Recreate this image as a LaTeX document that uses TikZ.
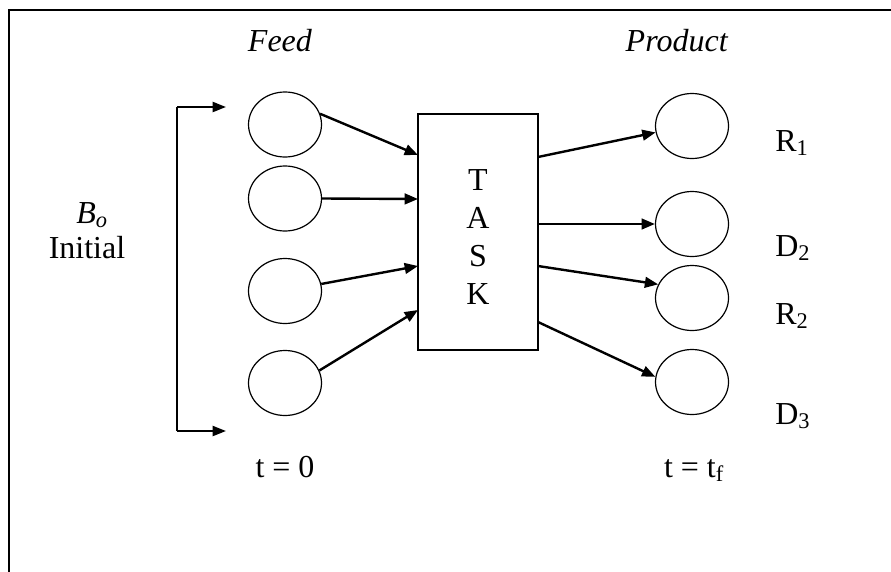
\documentclass[tikz,border=0pt]{standalone}
\usepackage{fontspec}
\setmainfont{Liberation Serif}
\usetikzlibrary{shapes.geometric,arrows.meta}

\begin{document}
\begin{tikzpicture}[x=0.75pt,y=-0.75pt,
    font=\fontsize{24}{28.5}\selectfont,
    flow/.style={line width=1.8pt,-{Triangle[length=10pt,width=8pt]}}]

  \useasboundingbox (0,0) rectangle (891,571);
  \draw[line width=1.5pt] (9,10) rectangle (920,600);

  % feed and product vessels
  \begin{scope}[every node/.style={ellipse,draw,line width=0.9pt,
      minimum width=54.75pt,minimum height=48.75pt,inner sep=0pt}]
    \node (f1) at (285,124.5) {};
    \node (f2) at (285,198.5) {};
    \node (f3) at (285,291)   {};
    \node (f4) at (285,383)   {};
    \node (p1) at (692,126)   {};
    \node (p2) at (692,224)   {};
    \node (p3) at (692,298)   {};
    \node (p4) at (692,382)   {};
  \end{scope}

  \node[draw,line width=0.9pt,minimum width=90pt,minimum height=177pt] (task) at (478,232) {};
  \node[align=center,inner sep=0pt] (letters) at (478,237) {T\\A\\S\\K};

  % ports on the task box
  \coordinate (in1)  at (418,155);
  \coordinate (in2)  at (418,199);
  \coordinate (in3)  at (418,266);
  \coordinate (in4)  at (418,310);
  \coordinate (out1) at (538,157);
  \coordinate (out2) at (538,224);
  \coordinate (out3) at (538,266);
  \coordinate (out4) at (538,322);

  \begin{scope}[every edge/.style={draw,flow}]
    \path (f1.17) edge (in1);
    \path (f2.east) edge (in2);
    \path (f3.11) edge (in3);
    \path (f4.20) edge (in4);
    \path (out1) edge (p1.190);
    \path (out2) edge (p2.west);
    \path (out3) edge (p3.158);
    \path (out4) edge (p4.172);
  \end{scope}

  % initial charge bracket
  \coordinate (btop) at (177,107);
  \coordinate (bbot) at (177,431);
  \coordinate (atop) at (226,107);
  \coordinate (abot) at (226,431);
  \draw[line width=0.9pt] (btop) -- (bbot);
  \path (btop) edge[draw,line width=1.5pt,-{Triangle[length=10pt,width=7.5pt]}] (atop);
  \path (bbot) edge[draw,line width=1.5pt,-{Triangle[length=10pt,width=7.5pt]}] (abot);

  % labels
  \begin{scope}[every node/.style={anchor=base,inner sep=0pt}]
    \node (feed)    at (280,51)  {\textit{Feed}};
    \node (product) at (677,51)  {\textit{Product}};
    \node (bo)      at (92,223)  {\textit{B}\textsubscript{\textit{o}}};
    \node (init)    at (87,258)  {Initial};
    \node (t0)      at (285,477) {t = 0};
    \node (tf)      at (694,477) {t = t\textsubscript{f}};
  \end{scope}
  \begin{scope}[every node/.style={anchor=base west,inner sep=0pt}]
    \node (r1) at (775,151) {R\textsubscript{1}};
    \node (d2) at (775,256) {D\textsubscript{2}};
    \node (r2) at (775,324) {R\textsubscript{2}};
    \node (d3) at (775,424) {D\textsubscript{3}};
  \end{scope}

\end{tikzpicture}
\end{document}
